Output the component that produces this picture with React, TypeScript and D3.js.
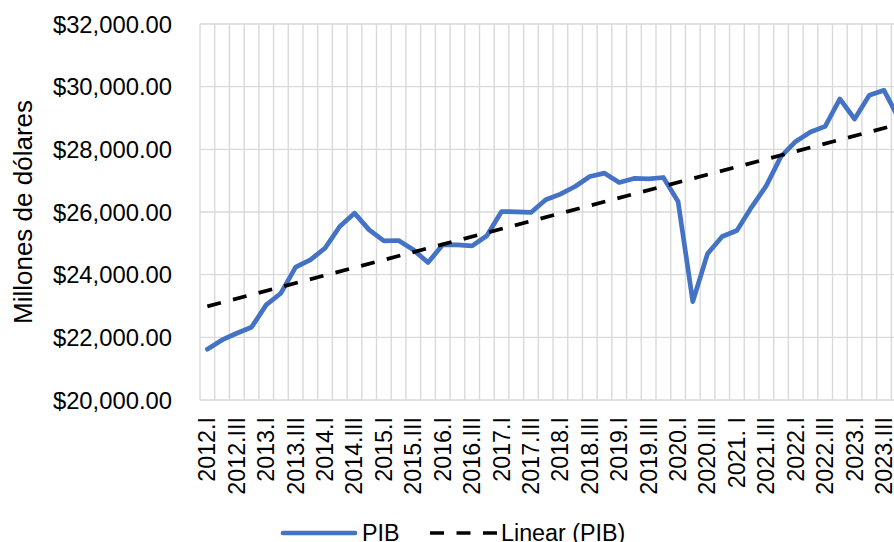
import React from "react";
import * as d3 from "d3";

// PIB trimestral, millones de dólares
const quarters = [
  "2012.I", "2012.II", "2012.III", "2012.IV",
  "2013.I", "2013.II", "2013.III", "2013.IV",
  "2014.I", "2014.II", "2014.III", "2014.IV",
  "2015.I", "2015.II", "2015.III", "2015.IV",
  "2016.I", "2016.II", "2016.III", "2016.IV",
  "2017.I", "2017.II", "2017.III", "2017.IV",
  "2018.I", "2018.II", "2018.III", "2018.IV",
  "2019.I", "2019.II", "2019.III", "2019.IV",
  "2020.I", "2020.II", "2020.III", "2020.IV",
  "2021. I", "2021.II", "2021.III", "2021.IV",
  "2022.I", "2022.II", "2022.III", "2022.IV",
  "2023.I", "2023.II", "2023.III", "2023.IV",
];

const pib = [
  21620, 21917, 22130, 22322, 23035, 23408, 24240, 24473,
  24846, 25537, 25963, 25431, 25080, 25090, 24792, 24387,
  24952, 24952, 24920, 25240, 26016, 26006, 25985, 26390,
  26571, 26815, 27134, 27240, 26943, 27070, 27060, 27102,
  26336, 23141, 24665, 25218, 25410, 26156, 26840, 27774,
  28253, 28553, 28732, 29607, 28968, 29723, 29883, 28990,
];

const yTicks = [20000, 22000, 24000, 26000, 28000, 30000, 32000];

const W = 894;
const H = 542;
const FONT = "'Liberation Sans', Arial, sans-serif";

const App = () => {
  const left = 200;
  const step = 14.71;
  const top = 24;
  const bottom = 400;

  const x = d3
    .scaleBand<string>()
    .domain(quarters)
    .range([left, left + step * quarters.length])
    .padding(0);
  const y = d3.scaleLinear().domain([20000, 32000]).range([bottom, top]);

  const cx = (i: number) => (x(quarters[i]) as number) + x.bandwidth() / 2;

  // linea de tendencia lineal (minimos cuadrados)
  const n = pib.length;
  const mx = d3.mean(d3.range(n)) as number;
  const my = d3.mean(pib) as number;
  const slope =
    d3.sum(pib, (v, i) => (i - mx) * (v - my)) /
    d3.sum(d3.range(n), (i) => (i - mx) * (i - mx));
  const intercept = my - slope * mx;

  const line = d3
    .line<number>()
    .x((_, i) => cx(i))
    .y((v) => y(v));

  const fmt = (v: number) => "$" + d3.format(",.2f")(v);

  const gridX = quarters.map((q) => x(q) as number).concat([left + step * n]);

  return (
    <svg
      width={W}
      height={H}
      style={{ position: "absolute", left: 0, top: 0, background: "#fff" }}
      fontFamily={FONT}
    >
      {/* gridlines */}
      {yTicks.map((t) => (
        <line key={"h" + t} x1={left} x2={left + step * n} y1={y(t)} y2={y(t)} stroke="#d9d9d9" strokeWidth={1.4} />
      ))}
      {gridX.map((gx, i) => (
        <line key={"v" + i} x1={gx} x2={gx} y1={top} y2={bottom} stroke="#d9d9d9" strokeWidth={1.4} />
      ))}

      {/* y axis labels */}
      {yTicks.map((t) => (
        <text key={"yl" + t} x={172} y={y(t)} textAnchor="end" dominantBaseline="central" fontSize={23.8} fill="#000">
          {fmt(t)}
        </text>
      ))}
      <text
        transform={`translate(23,${(top + bottom) / 2}) rotate(-90)`}
        textAnchor="middle"
        dominantBaseline="central"
        fontSize={26}
        fill="#000"
      >
        Millones de dólares
      </text>

      {/* x labels every other quarter */}
      {quarters.map((q, i) =>
        i % 2 === 0 ? (
          <text
            key={"xl" + i}
            transform={`translate(${cx(i)},417) rotate(-90)`}
            textAnchor="end"
            dominantBaseline="central"
            fontSize={23.3}
            fill="#000"
          >
            {q}
          </text>
        ) : null
      )}

      {/* series */}
      <path d={line(pib) || ""} fill="none" stroke="#4472C4" strokeWidth={4.7} strokeLinejoin="round" strokeLinecap="round" />
      <line
        x1={cx(0)}
        y1={y(intercept)}
        x2={cx(n - 1)}
        y2={y(intercept + slope * (n - 1))}
        stroke="#000"
        strokeWidth={3.7}
        strokeDasharray="14,12.5"
      />

      {/* legend */}
      <line x1={283} x2={355} y1={533} y2={533} stroke="#4472C4" strokeWidth={4.7} strokeLinecap="round" />
      <text x={362} y={533} dominantBaseline="central" fontSize={23.3} fill="#000">PIB</text>
      <line x1={430} x2={498} y1={533} y2={533} stroke="#000" strokeWidth={3.7} strokeDasharray="14,12.5" />
      <text x={501} y={533} dominantBaseline="central" fontSize={23.3} fill="#000">Linear (PIB)</text>
    </svg>
  );
};

export default App;
